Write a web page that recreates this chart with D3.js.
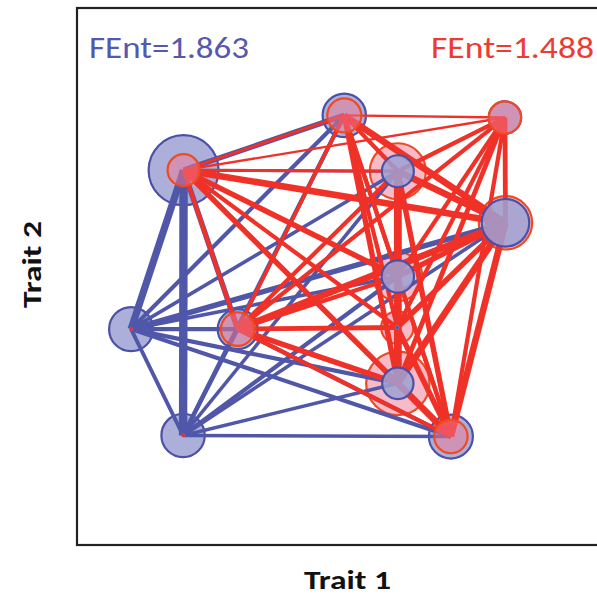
<!DOCTYPE html>
<html><head><meta charset="utf-8">
<script src="https://cdn.jsdelivr.net/npm/d3@7"></script>
<style>body{margin:0;background:#fff;}svg{display:block;}</style>
</head><body>
<script>
// ---- data ----
const species = ["A","B","C","D","E","F","G","H","I","J","K","L"];
const trait1  = [20.5, 51.4, 82.3, 61.7, 82.4, 61.7, 10.4, 30.9, 61.6, 61.7, 20.4, 71.9];
const trait2  = [69.8, 80.0, 79.6, 69.6, 60.0, 50.0, 40.2, 40.2, 40.5, 30.1, 20.4, 20.2];
const blueAbund = [12.25, 4.70, 2.62, 2.56, 5.66, 2.62, 4.84, 4.00, 0.04, 2.46, 4.70, 4.84];
const redAbund  = [2.56, 2.89, 2.62, 7.84, 7.13, 6.0, 0.04, 2.79, 2.62, 10.05, 0.04, 2.79];
const blueEdges = [
 ["A","B",4],["A","D",2],["A","E",3],["A","F",2.5],["A","G",5.5],["A","H",4],["A","J",2.5],["A","K",6.5],["A","L",2.5],
 ["B","D",2],["B","E",2],["B","F",2],["B","G",3],["B","H",2.5],["B","J",2],["B","K",3],["B","L",2],
 ["D","E",2],["D","F",2],["D","G",2.5],["D","H",2],["D","J",2],["D","K",2.5],["D","L",2],
 ["E","F",2],["E","G",4],["E","H",4],["E","J",2],["E","K",2.5],["E","L",2.5],
 ["F","G",2.5],["F","H",2],["F","J",2],["F","K",3],["F","L",2],
 ["G","H",3],["G","J",3],["G","K",2.7],["G","L",3],
 ["H","J",2.5],["H","K",3],["H","L",3],
 ["J","K",2.5],["J","L",2],["K","L",2.5]
];
const redEdges = [
 ["A","B",2],["A","C",1.5],["A","D",2],["A","E",5],["A","F",4],["A","H",3],["A","I",3],["A","J",4],["A","L",3],
 ["B","C",1.5],["B","D",3],["B","E",5],["B","F",3],["B","H",2.5],["B","I",3],["B","J",4],["B","L",3],
 ["C","D",3],["C","E",3.5],["C","F",3],["C","H",3],["C","I",3],["C","J",3.5],["C","L",3],
 ["D","E",5],["D","F",5],["D","H",3],["D","I",4],["D","J",6],["D","L",4],
 ["E","F",4],["E","H",5],["E","I",4],["E","J",5],["E","L",5],
 ["F","H",3],["F","I",3],["F","J",4],["F","L",3],
 ["H","I",3.5],["H","J",4],["H","L",3],
 ["I","J",4],["I","L",4],["J","L",5]
];
const fentLabels = ["FEnt=1.863","FEnt=1.488"];
const axisLabels = ["Trait 1","Trait 2"];

// ---- drawing ----
const W=597,H=598;
const svg=d3.select("body").append("svg").attr("width",W).attr("height",H);
const x=d3.scaleLinear().domain([0,100]).range([77,597]);
const y=d3.scaleLinear().domain([0,100]).range([545,8]);
const r=d3.scaleSqrt().domain([0,12.25]).range([0,35]);
const w=d3.scaleLinear().domain([0,7]).range([0.6,9]);
const BLUE="#5057a9", RED="#ef3128";
const idx={}; species.forEach((s,i)=>idx[s]=i);

svg.append("defs").append("clipPath").attr("id","clip").append("rect")
  .attr("x",77).attr("y",8).attr("width",540).attr("height",537);
const plot=svg.append("g").attr("clip-path","url(#clip)");

// circles: per species, larger circle behind edges, smaller on top
const circles=[];
species.forEach((s,i)=>{
  const b={i,c:"blue",r:r(blueAbund[i])}, rd={i,c:"red",r:r(redAbund[i])};
  if(b.r>=rd.r){b.layer=0;rd.layer=1;} else {rd.layer=0;b.layer=1;}
  circles.push(b,rd);
});
function drawCircles(layer){
  const data=circles.filter(c=>c.layer===layer).sort((a,b)=>b.r-a.r);
  plot.append("g").selectAll("circle").data(data).join("circle")
   .attr("cx",d=>x(trait1[d.i])).attr("cy",d=>y(trait2[d.i])).attr("r",d=>d.r)
   .attr("fill",d=>d.c==="blue"?"#9ea1d3":"#f07890")
   .attr("fill-opacity",d=>d.c==="blue"?0.85:0.5)
   .attr("stroke",d=>d.c==="blue"?"#4a51a6":"#f04a22")
   .attr("stroke-width",d=>d.r>4?2.2:0);
}
drawCircles(0);
function drawEdges(list,color){
  plot.append("g").selectAll("line").data(list).join("line")
   .attr("x1",d=>x(trait1[idx[d[0]]])).attr("y1",d=>y(trait2[idx[d[0]]]))
   .attr("x2",d=>x(trait1[idx[d[1]]])).attr("y2",d=>y(trait2[idx[d[1]]]))
   .attr("stroke",color).attr("stroke-width",d=>w(d[2])).attr("stroke-linecap","butt");
}
drawEdges(blueEdges,BLUE);
drawEdges(redEdges,RED);
drawCircles(1);

// tiny centre dots for near-zero abundances
plot.append("g").selectAll("circle")
  .data(circles.filter(c=>c.r<=4))
  .join("circle")
  .attr("cx",d=>x(trait1[d.i])).attr("cy",d=>y(trait2[d.i])).attr("r",1.6)
  .attr("fill",d=>d.c==="blue"?"#4a51a6":"#e8302a");

// frame
svg.append("rect").attr("x",77).attr("y",8).attr("width",560).attr("height",537)
  .attr("fill","none").attr("stroke","#222").attr("stroke-width",2.2);

// labels
const FF="Carlito, Lato, sans-serif";
svg.append("text").attr("x",89).attr("y",58).text(fentLabels[0])
  .attr("textLength",160).attr("lengthAdjust","spacingAndGlyphs")
  .attr("fill","#5559ab").attr("font-family",FF).attr("font-size",30);
svg.append("text").attr("x",431).attr("y",58).text(fentLabels[1])
  .attr("textLength",163).attr("lengthAdjust","spacingAndGlyphs")
  .attr("fill","#ef3a32").attr("font-family",FF).attr("font-size",30);
svg.append("text").attr("x",304).attr("y",589).text(axisLabels[0])
  .attr("textLength",87).attr("lengthAdjust","spacingAndGlyphs")
  .attr("font-family",FF).attr("font-weight","bold").attr("font-size",26).attr("fill","#111");
svg.append("text").attr("transform","translate(41,308) rotate(-90)").text(axisLabels[1])
  .attr("textLength",87).attr("lengthAdjust","spacingAndGlyphs")
  .attr("font-family",FF).attr("font-weight","bold").attr("font-size",26).attr("fill","#111");
</script>
</body></html>
